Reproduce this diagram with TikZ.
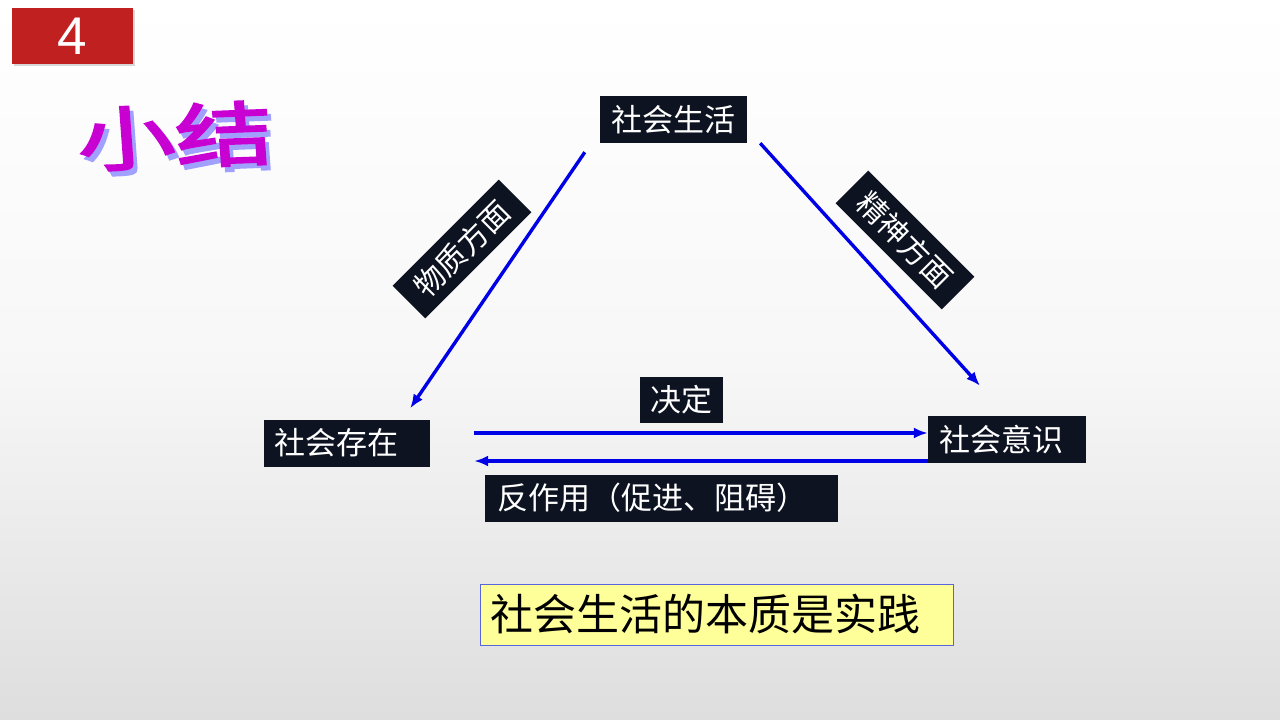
\documentclass[tikz,border=0pt]{standalone}
\usepackage{fontspec}
\usepackage{xcolor}
\usepackage{tikz}
\usetikzlibrary{arrows.meta,positioning,calc,shadows}
\newfontfamily\cjk{Noto Sans CJK SC}
\newfontfamily\cjkbold{Noto Sans CJK SC}[FakeBold=2.5]
\setmainfont{Liberation Sans}
\definecolor{boxnavy}{RGB}{13,19,33}
\definecolor{slidered}{RGB}{192,32,31}
\definecolor{arrowblue}{RGB}{0,0,230}
\definecolor{notefill}{RGB}{255,255,153}
\definecolor{notedraw}{RGB}{90,100,220}
\definecolor{wordpurple}{RGB}{200,0,210}
\definecolor{wordshade}{RGB}{160,160,255}

\begin{document}
\begin{tikzpicture}[
  x=1pt, y=-1pt,
  darkbox/.style={fill=boxnavy, text=white, inner xsep=10pt, inner ysep=0pt, minimum height=47pt, font=\cjk\fontsize{31}{36}\selectfont},
  tiltbox/.style={darkbox, minimum width=150pt, minimum height=46pt, font=\cjk\fontsize{30}{34}\selectfont},
  flow/.style={-{Latex[length=14pt,width=11pt]}, line width=3.4pt, draw=arrowblue}
]
\useasboundingbox (0,0) rectangle (1280,720);
\shade[top color=white, bottom color=gray!26, middle color=gray!6] (0,0) rectangle (1280,720);

% slide number and title
\node[fill=slidered, text=white, minimum width=121pt, minimum height=56pt, inner sep=0pt,
      font=\fontsize{53}{56}\selectfont, drop shadow={opacity=0.3, shadow xshift=2pt, shadow yshift=-2pt}]
  (num) at (72.5,36) {4};
\node[text=wordshade, font=\cjkbold\fontsize{70}{70}\selectfont, xscale=1.4, rotate=3]
  (titleshade) at (179,141) {小结};
\node[text=wordpurple, font=\cjkbold\fontsize{70}{70}\selectfont, xscale=1.4, rotate=3]
  (title) at (175,136) {小结};

% the three terms
\node[darkbox, minimum width=147pt] (life) at (673.5,119.5) {社会生活};
\node[darkbox, text width=146pt, align=left] (exist) at (347,443) {社会存在};
\node[darkbox, inner xsep=11pt, text width=136pt, align=left] (consc) at (1007,439.5) {社会意识};

% labels on the connectors
\node[tiltbox, rotate=45] (matter) at (462,249) {物质方面};
\node[tiltbox, rotate=-45] (spirit) at (905,240) {精神方面};
\node[darkbox, minimum width=83pt, minimum height=46pt] (decide) at (681.5,400) {决定};
\node[darkbox, inner xsep=12pt, text width=329pt, align=left] (react) at (661.5,498) {反作用（促进、阻碍）};

\draw[flow] ($(life.south west)+(-15,9)$) -- ($(exist.north east)+(-20,-11)$);
\draw[flow] ($(life.south east)+(13,0)$) -- ($(consc.north)+(-27,-30)$);
\draw[flow] ($(exist.east)+(44,-10)$) coordinate (d1) -- (d1 -| consc.west);
\draw[flow] ($(consc.west)+(0,21.5)$) coordinate (r1) -- (r1 -| d1);

% summary
\node[fill=notefill, draw=notedraw, line width=0.8pt, minimum height=61pt, inner xsep=10pt,
      text width=453pt, align=left, font=\cjk\fontsize{43}{48}\selectfont]
  (essence) at (716.5,614.5) {社会生活的本质是实践};
\end{tikzpicture}
\end{document}
